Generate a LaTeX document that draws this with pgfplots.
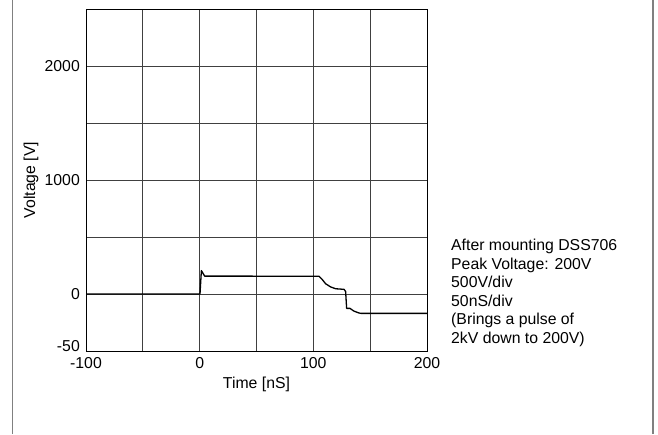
\documentclass[border=0pt]{standalone}
\usepackage{pgfplots}
\pgfplotsset{compat=1.18}
\usepackage{fontspec}
\setmainfont{Liberation Sans}
\begin{document}
\begin{tikzpicture}[x=1pt,y=1pt]
\useasboundingbox (0,0) rectangle (658,434);
\draw[black!50, line width=1.6pt] (12.5,0) -- (12.5,434);
\draw[black!50, line width=1.6pt] (653,0) -- (653,434);
\begin{axis}[
  at={(86pt,83pt)}, anchor=south west,
  scale only axis, width=341pt, height=342pt,
  xmin=-100, xmax=200, ymin=-500, ymax=2500,
  xtick={-100,-50,0,50,100,150,200},
  xticklabels={-100,,0,,100,,200},
  ytick={-500,0,500,1000,1500,2000,2500},
  yticklabels={,0,,1000,,2000,},
  extra y ticks={-456},
  extra y tick labels={-50},
  extra y tick style={grid=none},
  major tick length=0pt,
  grid=major,
  major grid style={black!75, line width=0.8pt},
  axis line style={black, line width=0.9pt},
  /pgf/number format/assume math mode=true,
  tick label style={font=\fontsize{15.8}{18}\selectfont, inner sep=0pt},
  xticklabel style={anchor=base, yshift=-17.5pt},
  yticklabel style={anchor=east, xshift=-6pt},
  label style={font=\fontsize{15.8}{18}\selectfont},
  xlabel={Time [nS]},
  ylabel={Voltage [V]},
  xlabel style={at={(axis description cs:0.5,0)}, anchor=center, yshift=-33pt},
  ylabel style={at={(axis description cs:-0.1613,0.5)}, anchor=center},
  clip=false,
]
\addplot[black, line width=1.3pt, line join=round] coordinates {
(-100,0) (0.3,0) (1.5,205) (4.4,157) (105,156) (108,125) (110.8,90) (115.2,62)
(119.6,46) (127,41) (128.4,22) (129.3,-126) (132.2,-126) (135.7,-150) (140,-166)
(142,-170) (200,-170)
};
\end{axis}
\begin{scope}[every node/.style={anchor=base west, inner sep=0pt, font=\fontsize{15.8}{18}\selectfont}]
\node at (451,183.5) {After mounting DSS706};
\node at (451,164.9) {Peak Voltage: 200V};
\node at (451,146.3) {500V/div};
\node at (451,127.7) {50nS/div};
\node at (451,109.1) {(Brings a pulse of};
\node at (451,90.5) {2kV down to 200V)};
\end{scope}
\end{tikzpicture}
\end{document}
